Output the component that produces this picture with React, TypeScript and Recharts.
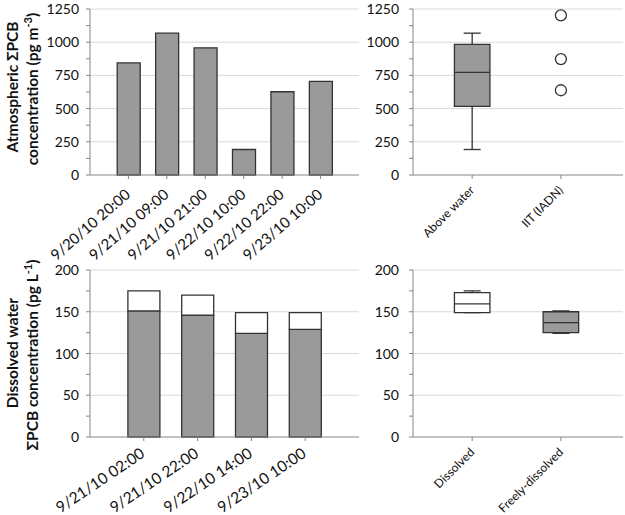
import {
  BarChart,
  Bar,
  XAxis,
  YAxis,
  CartesianGrid,
  ScatterChart,
  Scatter,
  ReferenceArea,
  ReferenceLine,
} from 'recharts';

// air samples
const airDates = ['9/20/10 20:00', '9/21/10 09:00', '9/21/10 21:00', '9/22/10 10:00', '9/22/10 22:00', '9/23/10 10:00'];
const airConc = [845, 1068, 958, 192, 627, 705];

// box summaries: [min, q1, median, q3, max]
const airBoxLabels = ['Above water', 'IIT (IADN)'];
const aboveWaterBox = [192, 517, 773, 984, 1068];
const iitPoints = [1202, 873, 638];

// water samples
const waterDates = ['9/21/10 02:00', '9/21/10 22:00', '9/22/10 14:00', '9/23/10 10:00'];
const dissolved = [175, 170, 149, 149];
const freelyDissolved = [151, 146, 124, 129];

const waterBoxLabels = ['Dissolved', 'Freely-dissolved'];
const dissolvedBox = [149, 149, 159.5, 173, 175];
const freelyBox = [124, 125, 137, 150, 151];

const airTicks = [0, 125, 250, 375, 500, 625, 750, 875, 1000, 1125, 1250];
const airGrid = [250, 500, 750, 1000, 1250];
const waterTicks = [0, 25, 50, 75, 100, 125, 150, 175, 200];
const waterGrid = [50, 100, 150, 200];

const FONT = 'Lato, "Open Sans", sans-serif';
const GRAY = '#9a9a9a';
const EDGE = '#333333';
const AXIS = '#868686';

const airData = airDates.map((d, i) => ({ date: d, conc: airConc[i] }));
const waterData = waterDates.map((d, i) => ({
  date: d,
  freely: freelyDissolved[i],
  rest: dissolved[i] - freelyDissolved[i],
}));

const capsOf = (pos: number, s: number[]) => [
  { x: pos, y: s[0] },
  { x: pos, y: s[4] },
];

const SlantTick = ({ x, y, payload, labels, angle = 45, size = 13, dx = 3, dy = 12 }: any) => {
  const text = labels ? labels[Math.round(payload.value) - 1] : payload.value;
  const ax = x + dx;
  const ay = y + dy;
  return (
    <text
      x={ax}
      y={ay}
      transform={`rotate(${-angle}, ${ax}, ${ay})`}
      textAnchor="end"
      fontSize={size}
      fontFamily={FONT}
      fill="#111"
    >
      {text}
    </text>
  );
};

const MajorTick = ({ x, y, payload, step }: any) => {
  if (payload.value % step !== 0) return null;
  return (
    <text x={x} y={y} dy={5} textAnchor="end" fontSize={14} fontFamily={FONT} fill="#111">
      {payload.value}
    </text>
  );
};

const CapShape = (p: any) => (
  <line x1={p.cx - 8.5} x2={p.cx + 8.5} y1={p.cy} y2={p.cy} stroke={EDGE} strokeWidth={1.3} />
);

const BoxMarks = ({ pos, s, fill }: { pos: number; s: number[]; fill: string }) => {
  const [min, q1, med, q3, max] = s;
  const hw = 0.2;
  return (
    <>
      {max > q3 && <ReferenceLine segment={[{ x: pos, y: q3 }, { x: pos, y: max }]} stroke={EDGE} strokeWidth={1.3} />}
      {min < q1 && <ReferenceLine segment={[{ x: pos, y: min }, { x: pos, y: q1 }]} stroke={EDGE} strokeWidth={1.3} />}
      <ReferenceArea x1={pos - hw} x2={pos + hw} y1={q1} y2={q3} fill={fill} fillOpacity={1} stroke={EDGE} strokeWidth={1.3} />
      <ReferenceLine segment={[{ x: pos - hw, y: med }, { x: pos + hw, y: med }]} stroke={EDGE} strokeWidth={1.3} />
    </>
  );
};

const YLabel = ({ top, mid, line1, line2, sup }: any) => (
  <svg style={{ position: 'absolute', left: 0, top }} width={50} height={250}>
    <text
      x={18}
      y={mid}
      transform={`rotate(-90, 18, ${mid})`}
      textAnchor="middle"
      fontSize={15.5}
      fontWeight="bold"
      fontFamily={FONT}
      fill="#111"
    >
      {line1}
    </text>
    <text
      x={38}
      y={mid + 2}
      transform={`rotate(-90, 38, ${mid + 2})`}
      textAnchor="middle"
      fontSize={15.5}
      fontWeight="bold"
      fontFamily={FONT}
      fill="#111"
    >
      {line2}
      <tspan dy={-6} fontSize={11}>{sup}</tspan>
      <tspan dy={6}>)</tspan>
    </text>
  </svg>
);

export default function App() {
  return (
    <div style={{ position: 'absolute', left: 0, top: 0, width: 625, height: 515, overflow: 'hidden', background: '#fff' }}>
      <YLabel top={0} mid={87} line1="Atmospheric ΣPCB" line2="concentration (pg m" sup="-3" />
      <YLabel top={255} mid={98} line1="Dissolved water" line2="ΣPCB concentration (pg L" sup="-1" />

      {/* dissolved water concentrations by sample */}
      <div style={{ position: 'absolute', left: 0, top: 260 }}>
        <BarChart width={370} height={255} data={waterData} margin={{ top: 10, right: 11, left: 0, bottom: 0 }}>
          <CartesianGrid vertical={false} horizontalValues={waterGrid} stroke="#d9d9d9" />
          <XAxis
            dataKey="date"
            height={78}
            interval={0}
            padding={{ left: 26.9, right: 26.9 }}
            stroke={AXIS}
            tickSize={4}
            tick={<SlantTick angle={34} size={15.5} dx={2} dy={13} />}
          />
          <YAxis
            width={90}
            domain={[0, 200]}
            ticks={waterTicks}
            interval={0}
            stroke={AXIS}
            tickSize={4}
            tickMargin={7}
            tick={<MajorTick step={50} />}
          />
          <Bar dataKey="freely" stackId="w" fill={GRAY} stroke={EDGE} strokeWidth={1.3} barSize={32} isAnimationActive={false} />
          <Bar dataKey="rest" stackId="w" fill="#fff" stroke={EDGE} strokeWidth={1.3} barSize={32} isAnimationActive={false} />
        </BarChart>
      </div>

      {/* dissolved water box plot */}
      <div style={{ position: 'absolute', left: 320, top: 260 }}>
        <ScatterChart width={305} height={255} margin={{ top: 10, right: 2, left: 0, bottom: 0 }}>
          <CartesianGrid vertical={false} horizontalValues={waterGrid} stroke="#d9d9d9" />
          <XAxis
            type="number"
            dataKey="x"
            domain={[0.333, 2.7]}
            ticks={[1, 2]}
            allowDataOverflow
            height={78}
            stroke={AXIS}
            tickSize={4}
            tick={<SlantTick labels={waterBoxLabels} angle={45} size={12} dx={3} dy={10} />}
          />
          <YAxis
            type="number"
            dataKey="y"
            width={93}
            domain={[0, 200]}
            ticks={waterTicks}
            interval={0}
            stroke={AXIS}
            tickSize={4}
            tickMargin={10}
            tick={<MajorTick step={50} />}
          />
          {BoxMarks({ pos: 1, s: dissolvedBox, fill: '#fff' })}
          {BoxMarks({ pos: 2, s: freelyBox, fill: GRAY })}
          <Scatter data={[...capsOf(1, dissolvedBox), ...capsOf(2, freelyBox)]} shape={CapShape} isAnimationActive={false} />
        </ScatterChart>
      </div>

      {/* atmospheric concentrations by sample */}
      <div style={{ position: 'absolute', left: 0, top: 0 }}>
        <BarChart width={370} height={270} data={airData} margin={{ top: 9, right: 11, left: 0, bottom: 0 }}>
          <CartesianGrid vertical={false} horizontalValues={airGrid} stroke="#d9d9d9" />
          <XAxis
            dataKey="date"
            height={95}
            interval={0}
            padding={{ left: 19.2, right: 19.2 }}
            stroke={AXIS}
            tickSize={4}
            tick={<SlantTick angle={41} size={15} dx={3} dy={15} />}
          />
          <YAxis
            width={90}
            domain={[0, 1250]}
            ticks={airTicks}
            interval={0}
            stroke={AXIS}
            tickSize={4}
            tickMargin={7}
            tick={<MajorTick step={250} />}
          />
          <Bar dataKey="conc" fill={GRAY} stroke={EDGE} strokeWidth={1.3} barSize={23} isAnimationActive={false} />
        </BarChart>
      </div>

      {/* atmospheric box plot */}
      <div style={{ position: 'absolute', left: 320, top: 0 }}>
        <ScatterChart width={305} height={260} margin={{ top: 9, right: 2, left: 0, bottom: 0 }}>
          <CartesianGrid vertical={false} horizontalValues={airGrid} stroke="#d9d9d9" />
          <XAxis
            type="number"
            dataKey="x"
            domain={[0.333, 2.7]}
            ticks={[1, 2]}
            allowDataOverflow
            height={85}
            stroke={AXIS}
            tickSize={4}
            tick={<SlantTick labels={airBoxLabels} angle={45} size={12} dx={3} dy={10} />}
          />
          <YAxis
            type="number"
            dataKey="y"
            width={93}
            domain={[0, 1250]}
            ticks={airTicks}
            interval={0}
            stroke={AXIS}
            tickSize={4}
            tickMargin={10}
            tick={<MajorTick step={250} />}
          />
          {BoxMarks({ pos: 1, s: aboveWaterBox, fill: GRAY })}
          <Scatter data={capsOf(1, aboveWaterBox)} shape={CapShape} isAnimationActive={false} />
          <Scatter
            data={iitPoints.map((v) => ({ x: 2, y: v }))}
            shape={(p: any) => <circle cx={p.cx} cy={p.cy} r={5.5} fill="#fff" stroke={EDGE} strokeWidth={1.3} />}
            isAnimationActive={false}
          />
        </ScatterChart>
      </div>
    </div>
  );
}
